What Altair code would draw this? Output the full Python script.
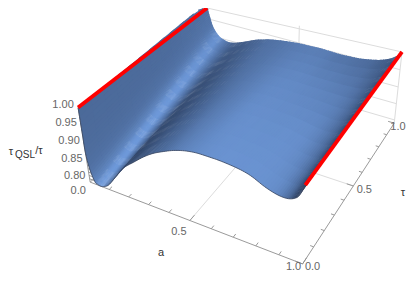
import numpy as np
import altair as alt

# surface profiles: front edge (tau = 0) and back edge (tau = 1)
a_front = [0,0,0,.010,.027,.040,.055,.070,.10,.14,.19,.25,.30,.35,.40,.45,.50,.55,.60,.65,.70,.75,.79,.84,.89,.93,.96,.98,1]
z_front = [1,.93,.875,.828,.797,.792,.790,.792,.803,.833,.871,.901,.925,.945,.96,.973,.982,.987,.988,.988,.986,.982,.975,.961,.952,.951,.958,.971,1]
a_back = [0,.005,.013,.025,.038,.050,.065,.08,.113,.15,.18,.22,.264,.31,.35,.416,.50,.56,.61,.66,.71,.76,.81,.87,.91,.95,.975,.99,1]
z_back = [1,.975,.958,.935,.921,.912,.904,.900,.895,.898,.904,.913,.924,.932,.938,.944,.949,.95,.951,.95,.949,.95,.952,.958,.964,.974,.984,.992,1]
# apparent brightness of the surface at tau = 0, 1/3, 2/3, 1
shade_0 = [.50,.52,.54,.60,.78,.92,.98,.88,.42,.14,.14,.24,.33,.45,.55,.68,.78,.85,.9,.92,.92,.92,.92,.9,.82,.55,.15,.08,.1]
shade_1 = [.52,.52,.54,.60,.78,.92,.98,.92,.58,.32,.22,.25,.33,.43,.53,.66,.76,.85,.88,.88,.88,.88,.88,.85,.72,.5,.2,.1,.12]
shade_2 = [.52,.53,.55,.62,.78,.92,.96,.90,.60,.36,.28,.30,.38,.47,.56,.64,.74,.8,.82,.82,.8,.78,.75,.7,.6,.42,.25,.2,.2]
shade_3 = [.58,.58,.60,.65,.76,.86,.90,.80,.58,.42,.38,.40,.46,.52,.58,.62,.68,.7,.7,.68,.62,.6,.55,.5,.42,.38,.32,.3,.3]

z_ticks_major = [.80,.85,.90,.95,1.0]
z_labels = ["0.80","0.85","0.90","0.95","1.00"]
a_ticks_major = [0,.5,1]
tau_ticks_major = [0,.5,1]
minor_ticks = [.1,.2,.3,.4,.6,.7,.8,.9]
z_minor = [.81,.82,.83,.84,.86,.87,.88,.89,.91,.92,.93,.94,.96,.97,.98,.99]

zb = 0.79
L, T, R, B = 8.0, 8.0, 407.0, 273.0   # the drawable page area, inside its margin
# camera fitted to the box corners visible in the picture
cam = [((0,0,zb),(90,182)),((0,0,1),(78,108)),((1,0,zb),(303,264)),((1,0,1),(305,185)),((1,1,zb),(394,123)),
       ((1,1,1),(401.7,52.7)),((0,1,1),(207,3)),((.5,0,zb),(190,220)),((1,.5,zb),(353.3,186.7)),((.5,1,1),(300,24))]
A, b = [], []
for (u, t, z), (x, y) in cam:
    w = (z - zb) / (1 - zb)
    A.append([u,t,w,1,0,0,0,0,-x*u,-x*t,-x*w]); b.append(x)
    A.append([0,0,0,0,u,t,w,1,-y*u,-y*t,-y*w]); b.append(y)
P = np.append(np.linalg.lstsq(np.array(A,float), np.array(b,float), rcond=None)[0], 1).reshape(3,4)

def proj(u, t, z):
    v = P @ np.array([u, t, (z - zb) / (1 - zb), 1.0])
    return [min(float(v[0]/v[2]), R), max(float(v[1]/v[2]), T)]

def rgb(s):
    lo, hi = np.array([38,55,85.]), np.array([112,155,220.])
    c = lo + (hi - lo) * float(np.clip(s, 0, 1))
    return "#%02x%02x%02x" % tuple(int(round(q)) for q in c)

shades = np.array([shade_0, shade_1, shade_2, shade_3])
af, zf, ab, zk = map(np.array, (a_front, z_front, a_back, z_back))
n = len(af)
NA, NT = 5, 12

def smooth(v, p):
    i = min(int(p), n - 2); f = p - i
    p0, p1, p2, p3 = v[max(i-1,0)], v[i], v[i+1], v[min(i+2,n-1)]
    return .5*(2*p1 + (p2-p0)*f + (2*p0-5*p1+4*p2-p3)*f*f + (3*p1-p0-3*p2+p3)*f**3)

def pt(p, t):
    u0, z0, u1, z1 = smooth(af,p), smooth(zf,p), smooth(ab,p), smooth(zk,p)
    return proj(u0*(1-t)+u1*t, t, z0*(1-t)+z1*t)

def shade(p, t):
    q = t * 3; j = min(int(q), 2); g = q - j
    return smooth(shades[j],p)*(1-g) + smooth(shades[j+1],p)*g

# each patch overlaps the next one so that no seams show between neighbouring patches
quads = []
for k in range((n-1)*NA):
    p0, p1 = k/NA, (k+1)/NA
    pe = min(p1 + .5/NA, n-1)
    for m in range(NT):
        t0, t1 = m/NT, (m+1)/NT
        te = min(t1 + .5/NT, 1.0)
        ps = [p0 + (pe-p0)*i/2 for i in range(3)]
        ring = [pt(q,t0) for q in ps] + [pt(q,te) for q in ps[::-1]] + [pt(p0,t0)]
        quads.append({"type":"Feature","properties":{"c":rgb(shade((p0+p1)/2,(t0+t1)/2))},
                      "geometry":{"type":"Polygon","coordinates":[ring]}})

def line(p, q):
    return {"type":"Feature","properties":{},"geometry":{"type":"LineString","coordinates":[proj(*p), proj(*q)]}}

grid = []
for z in z_ticks_major[:-1]:
    grid.append(line((0,1,z),(1,1,z)))
grid += [line((0,1,1),(1,1,1)), line((1,1,zb),(1,1,1)), line((.5,1,zb),(.5,1,1)),
         line((.5,0,zb),(.5,1,zb)), line((0,.5,zb),(1,.5,zb))]
axes = [line((0,0,zb),(1,0,zb)), line((1,0,zb),(1,1,zb)), line((0,0,zb),(0,0,1))]
for u in a_ticks_major:
    axes.append(line((u,0,zb),(u,.035,zb)))
for u in minor_ticks:
    axes.append(line((u,0,zb),(u,.02,zb)))
for t in tau_ticks_major:
    axes.append(line((1,t,zb),(.97,t,zb)))
for t in minor_ticks:
    axes.append(line((1,t,zb),(.985,t,zb)))
for z in z_ticks_major:
    axes.append(line((0,0,z),(.03,0,z)))
for z in z_minor:
    axes.append(line((0,0,z),(.015,0,z)))
red = [line((0,0,1),(0,1,1)), line((1,0,1),(1,1,1))]
edge = [{"type":"Feature","properties":{},"geometry":{"type":"LineString",
        "coordinates":[pt(k/NA,0) for k in range((n-1)*NA+1)]}}]
# an invisible diagonal across the drawing area: it pins the projection's fit to 1 unit = 1 pixel
frame = [{"type":"Feature","properties":{},"geometry":{"type":"LineString","coordinates":[[L,T],[R,B]]}}]

def lab(anchor, off, text):
    x, y = proj(*anchor)
    return dict(x=min(x+off[0], 398), y=min(y+off[1], 267), t=text)

num = [lab((0,0,z),(-15,-3),s) for z,s in zip(z_ticks_major,z_labels)]
num += [lab((0,0,zb),(-12,9),"0.0"), lab((.5,0,zb),(-11,11),"0.5"), lab((1,0,zb),(-9,11),"1.0"),
        lab((1,0,zb),(10,5),"0.0"), lab((1,.5,zb),(11,4),"0.5"), lab((1,1,zb),(11,4),"1.0")]
names = [dict(x=161,y=253,t="a",s=11), dict(x=403,y=193,t="τ",s=11), dict(x=11,y=152,t="τ",s=11),
         dict(x=25,y=155,t="QSL",s=10), dict(x=39,y=151,t="/τ",s=11)]

pr = dict(type="identity")
def geo(feats):
    return alt.Data(values={"type":"FeatureCollection","features":feats}, format=alt.DataFormat(property="features", type="json"))

layers = [
    alt.Chart(geo(frame)).mark_geoshape(filled=False, stroke="#ffffff", strokeOpacity=0).project(**pr),
    alt.Chart(geo(grid)).mark_geoshape(filled=False, stroke="#dcdcdc", strokeWidth=1, opacity=1).project(**pr),
    alt.Chart(geo(axes)).mark_geoshape(filled=False, stroke="#8f8f8f", strokeWidth=0.9, opacity=1).project(**pr),
    alt.Chart(geo(quads)).mark_geoshape(opacity=1, fillOpacity=1, strokeWidth=0).encode(
        fill=alt.Fill("properties.c:N", scale=None)).project(**pr),
    alt.Chart(geo(edge)).mark_geoshape(filled=False, stroke="#3a4660", strokeWidth=0.8, opacity=1).project(**pr),
    alt.Chart(geo(red)).mark_geoshape(filled=False, stroke="#ff0000", strokeWidth=3.8, opacity=1).project(**pr),
    alt.Chart(alt.Data(values=num)).mark_text(font="Liberation Sans", fontSize=11, color="#666666").encode(
        longitude="x:Q", latitude="y:Q", text="t:N").project(**pr),
    alt.Chart(alt.Data(values=names)).mark_text(font="Liberation Sans", color="#333333").encode(
        longitude="x:Q", latitude="y:Q", text="t:N", size=alt.Size("s:Q", scale=None, legend=None)).project(**pr),
]
chart = alt.layer(*layers).properties(width=R-L, height=B-T, padding=0, autosize=alt.AutoSizeParams(type="none")
    ).configure_view(stroke=None)
chart.save("out.html", embed_options={"renderer": "svg", "actions": False})
